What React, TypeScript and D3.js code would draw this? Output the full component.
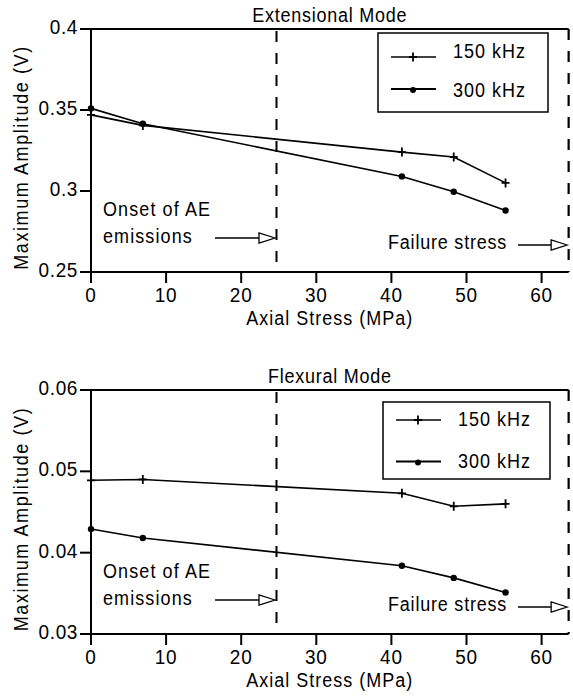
import React from "react";
import * as d3 from "d3";

const stressMPa = [0, 6.9, 41.4, 48.3, 55.2];
const ext150 = [0.347, 0.3405, 0.324, 0.321, 0.305];
const ext300 = [0.351, 0.3415, 0.309, 0.2995, 0.288];
const flex150 = [0.0489, 0.049, 0.0473, 0.0457, 0.046];
const flex300 = [0.0429, 0.0418, 0.0384, 0.0369, 0.0351];
const xTicks = [0, 10, 20, 30, 40, 50, 60];
const extYTicks = [0.25, 0.3, 0.35, 0.4];
const flexYTicks = [0.03, 0.04, 0.05, 0.06];
const seriesNames = ["150 kHz", "300 kHz"];
const onsetStress = 24.7;
const failureStress = 63.6;
const FONT = "'Liberation Sans', Arial, Helvetica, sans-serif";
const SY = 1.1;

type PanelProps = {
  title: string;
  s150: number[];
  s300: number[];
  yTicks: number[];
  top: number;
  bottom: number;
  legend: { x: number; y: number; w: number; h: number; l1: number; l2: number; t1: number; t2: number };
};

function T({
  x,
  y,
  size,
  ls,
  anchor,
  rotate,
  children,
}: {
  x: number;
  y: number;
  size: number;
  ls: number;
  anchor?: "start" | "middle" | "end";
  rotate?: boolean;
  children: React.ReactNode;
}) {
  const tr = rotate
    ? `translate(${x},${y}) rotate(-90) scale(1,${SY})`
    : `translate(${x},${y}) scale(1,${SY})`;
  return (
    <text
      transform={tr}
      textAnchor={anchor || "start"}
      fontSize={size}
      letterSpacing={ls}
      style={{ fontFamily: FONT, fill: "#000" }}
    >
      {children}
    </text>
  );
}

function Plus({ x, y }: { x: number; y: number }) {
  return <path d={`M${x - 4},${y}H${x + 4}M${x},${y - 4.5}V${y + 4.5}`} stroke="#000" strokeWidth={1.8} />;
}

function Panel({ title, s150, s300, yTicks, top, bottom, legend }: PanelProps) {
  const x = d3.scaleLinear().domain([0, failureStress]).range([91, 91 + failureStress * 7.51]);
  const y = d3.scaleLinear().domain([yTicks[0], yTicks[yTicks.length - 1]]).range([bottom, top]);
  const left = x(0);
  const right = x(failureStress);
  const line = d3.line<number>().x((_, i) => x(stressMPa[i])).y((d) => y(d));
  const xo = x(onsetStress);
  const arrowHead = (tip: number, yy: number) =>
    `${tip},${yy} ${tip - 16},${yy - 5} ${tip - 16},${yy + 5}`;
  return (
    <g>
      <T x={(left + right) / 2} y={top - 7} size={18} ls={0.75} anchor="middle">
        {title}
      </T>
      <line x1={left} x2={right} y1={top} y2={top} stroke="#000" strokeWidth={2} />
      <line x1={left} x2={left} y1={top} y2={bottom} stroke="#000" strokeWidth={2} />
      <line x1={left} x2={right} y1={bottom} y2={bottom} stroke="#000" strokeWidth={2} />
      {xTicks.map((t) => (
        <g key={t}>
          <line x1={x(t)} x2={x(t)} y1={bottom} y2={bottom + 11} stroke="#000" strokeWidth={2} />
          <T x={x(t)} y={bottom + 30} size={19} ls={0.8} anchor="middle">
            {String(t)}
          </T>
        </g>
      ))}
      {yTicks.map((t) => (
        <g key={t}>
          <line x1={left - 11} x2={left} y1={y(t)} y2={y(t)} stroke="#000" strokeWidth={2} />
          <T x={78} y={y(t) + 5} size={19} ls={0.6} anchor="end">
            {String(t)}
          </T>
        </g>
      ))}
      <T x={(left + right) / 2} y={bottom + 53} size={18} ls={1} anchor="middle">
        Axial Stress (MPa)
      </T>
      <T x={28} y={(top + bottom) / 2 + 7} size={18} ls={1.6} anchor="middle" rotate>
        Maximum Amplitude (V)
      </T>
      <line x1={xo} x2={xo} y1={top + 2} y2={bottom - 2} stroke="#000" strokeWidth={2} strokeDasharray="11,11" />
      <line x1={right} x2={right} y1={top} y2={bottom} stroke="#000" strokeWidth={2.2} strokeDasharray="11,11" />
      <path d={line(s150) || ""} fill="none" stroke="#000" strokeWidth={1.6} />
      <path d={line(s300) || ""} fill="none" stroke="#000" strokeWidth={1.6} />
      {s150.map((v, i) => (
        <Plus key={"p" + i} x={x(stressMPa[i])} y={y(v)} />
      ))}
      {s300.map((v, i) => (
        <circle key={"c" + i} cx={x(stressMPa[i])} cy={y(v)} r={3.2} fill="#000" />
      ))}
      <T x={103} y={bottom - 56.5} size={18} ls={1.1}>
        Onset of AE
      </T>
      <T x={103} y={bottom - 29} size={18} ls={1.1}>
        emissions
      </T>
      <line x1={215} x2={xo - 16} y1={bottom - 34} y2={bottom - 34} stroke="#000" strokeWidth={1.5} />
      <polygon points={arrowHead(xo - 1.5, bottom - 34)} fill="#fff" stroke="#000" strokeWidth={1.3} />
      <T x={388} y={bottom - 23.5} size={18} ls={0.8}>
        Failure stress
      </T>
      <line x1={518} x2={right - 16} y1={bottom - 27} y2={bottom - 27} stroke="#000" strokeWidth={1.5} />
      <polygon points={arrowHead(right - 1.5, bottom - 27)} fill="#fff" stroke="#000" strokeWidth={1.3} />
      <rect x={legend.x} y={legend.y} width={legend.w} height={legend.h} fill="#fff" stroke="#000" strokeWidth={1.5} />
      <line x1={legend.x + 13} x2={legend.x + 58} y1={legend.l1} y2={legend.l1} stroke="#000" strokeWidth={1.3} />
      <Plus x={legend.x + 35} y={legend.l1} />
      <T x={legend.x + 75} y={legend.t1} size={18} ls={1}>
        {seriesNames[0]}
      </T>
      <line x1={legend.x + 13} x2={legend.x + 58} y1={legend.l2} y2={legend.l2} stroke="#000" strokeWidth={2.2} />
      <circle cx={legend.x + 35} cy={legend.l2 + 1} r={3} fill="#000" />
      <T x={legend.x + 75} y={legend.t2} size={18} ls={1}>
        {seriesNames[1]}
      </T>
    </g>
  );
}

export default function App() {
  return (
    <svg
      width={573}
      height={699}
      viewBox="0 0 573 699"
      style={{ position: "absolute", left: 0, top: 0, background: "#fff" }}
    >
      <rect width={573} height={699} fill="#fff" />
      <Panel
        title="Extensional Mode"
        s150={ext150}
        s300={ext300}
        yTicks={extYTicks}
        top={29}
        bottom={272}
        legend={{ x: 378, y: 33, w: 170, h: 79, l1: 57, l2: 89, t1: 58, t2: 96.5 }}
      />
      <Panel
        title="Flexural Mode"
        s150={flex150}
        s300={flex300}
        yTicks={flexYTicks}
        top={390}
        bottom={634}
        legend={{ x: 383, y: 402, w: 167, h: 77, l1: 420, l2: 461.5, t1: 426, t2: 468 }}
      />
    </svg>
  );
}
